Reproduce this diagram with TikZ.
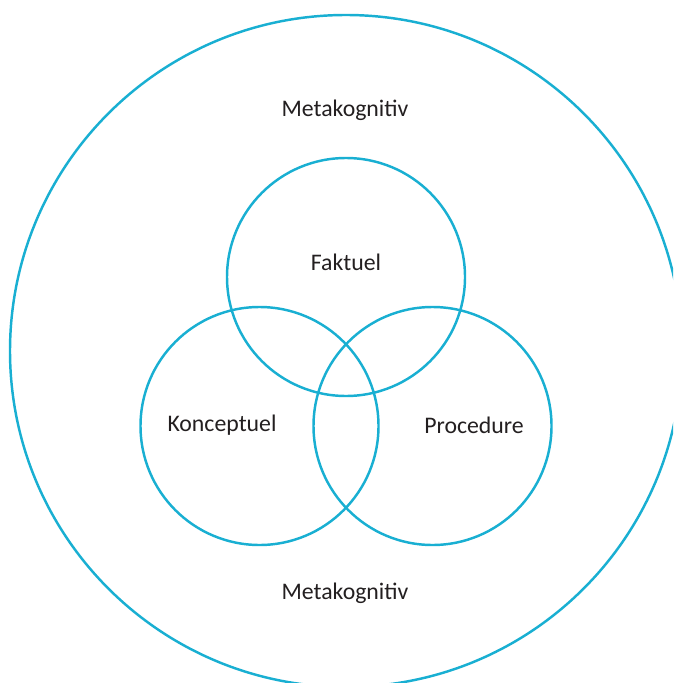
\documentclass[tikz,border=0pt]{standalone}
\usepackage{fontspec}
\setmainfont{Carlito}
\definecolor{ringblue}{HTML}{19AFD2}
\definecolor{labelgray}{HTML}{231F20}
\tikzset{
  ring/.style={draw=ringblue,line width=2.1pt},
  lbl/.style={text=labelgray,font=\fontsize{20.3}{24}\selectfont,inner sep=0pt}
}
\begin{document}
\begin{tikzpicture}[x=0.03cm,y=-0.03cm]
        \useasboundingbox (0,0) rectangle (673,683);
        \clip (0,0) rectangle (673,683);
        % outer ring
        \draw[ring] (346,351) circle[radius=336*0.03cm];
        % three inner rings
        \draw[ring] (346,277) circle[radius=119*0.03cm];
        \draw[ring] (259.5,426) circle[radius=119*0.03cm];
        \draw[ring] (432.5,426) circle[radius=119*0.03cm];
        \node[lbl] (metatop) at (345,110) {Metakognitiv};
        \node[lbl] (faktuel) at (346,262) {Faktuel};
        \node[lbl] (koncept) at (222,425) {Konceptuel};
        \node[lbl] (proced) at (474,425) {Procedure};
        \node[lbl] (metabot) at (345,593) {Metakognitiv};
    \end{tikzpicture}
\end{document}
